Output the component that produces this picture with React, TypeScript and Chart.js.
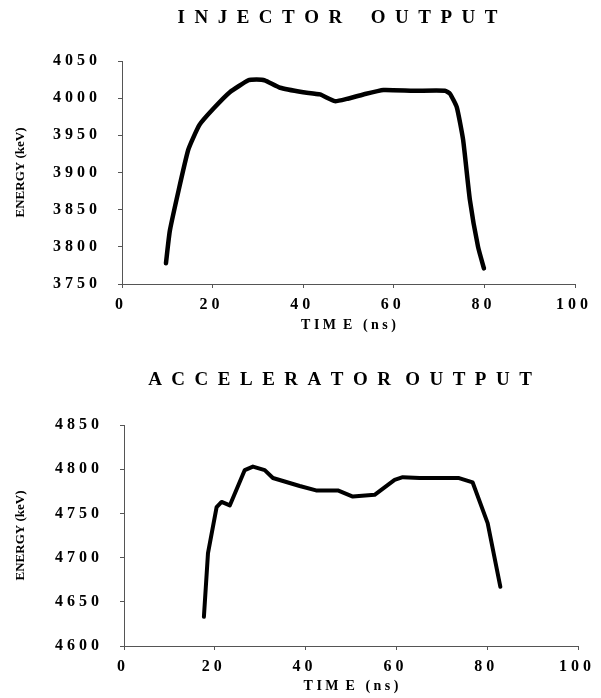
import React, { useEffect, useRef } from "react";
import { Chart, registerables } from "chart.js";

Chart.register(...registerables);

// ---------- data ----------
const injectorTime = [9.7, 10.6, 14.6, 17.1, 20.2, 23.8, 27.9, 29.7, 31.5, 34.9, 40.0, 43.7, 47.0, 49.6, 53.3, 57.7, 64.3, 71.3, 72.4, 73.9, 75.3, 76.8, 78.6, 79.9];
const injectorEnergy = [3778, 3823, 3930, 3964, 3986, 4008, 4024, 4025, 4024, 4014, 4008, 4005, 3996, 3999, 4005, 4011, 4010, 4010, 4006, 3988, 3944, 3863, 3800, 3771];

const acceleratorTime = [17.6, 18.5, 20.4, 21.5, 23.3, 26.6, 28.4, 31.0, 32.8, 38.7, 42.3, 47.1, 50.4, 55.2, 59.6, 61.4, 65.1, 73.8, 76.8, 80.1, 82.9];
const acceleratorEnergy = [4633, 4705, 4757, 4763, 4759, 4799, 4803, 4799, 4790, 4781, 4776, 4776, 4769, 4771, 4788, 4791, 4790, 4790, 4785, 4739, 4667];

const timeTicks = [0, 20, 40, 60, 80, 100];
const injectorTicks = [3750, 3800, 3850, 3900, 3950, 4000, 4050];
const acceleratorTicks = [4600, 4650, 4700, 4750, 4800, 4850];

const injectorTitle = "INJECTOR OUTPUT";
const acceleratorTitle = "ACCELERATOR OUTPUT";
const timeLabel = "T I M  E   ( n s )";
const energyLabel = "ENERGY (keV)";

// ---------- helpers ----------
const FONT = "'Liberation Serif', 'Times New Roman', serif";
const spaced = (s: string) => s.split("").join(" ");
const spacedTitle = (s: string, letterGap: string, wordGap: string) =>
  s.split(" ").map((w) => w.split("").join(letterGap)).join(wordGap);

type Cfg = {
  title: string;
  letterGap: string;
  wordGap: string;
  titleY: number;
  titleDx: number;
  xs: number[];
  ys: number[];
  yTicks: number[];
  area: { left: number; right: number; top: number; bottom: number };
  xTitlePadBottom: number;
  tension: number;
  lineWidth: number;
};

const W = 601;
const H = 349;

const panelTitle = {
  id: "panelTitle",
  afterDraw(chart: any, _args: any, opts: any) {
    const { ctx, chartArea } = chart;
    ctx.save();
    ctx.font = `bold ${opts.size}px ${FONT}`;
    ctx.fillStyle = "#000";
    ctx.textAlign = "center";
    ctx.textBaseline = "middle";
    ctx.fillText(opts.text, (chartArea.left + chartArea.right) / 2 + opts.dx, opts.y);
    ctx.restore();
  },
};

function makeChart(canvas: HTMLCanvasElement, c: Cfg) {
  const data = c.xs.map((x, i) => ({ x, y: c.ys[i] }));
  return new Chart(canvas, {
    type: "line",
    data: {
      datasets: [
        {
          data,
          borderColor: "#000",
          borderWidth: c.lineWidth,
          pointRadius: 0,
          tension: c.tension,
          borderCapStyle: "round",
          borderJoinStyle: "round",
          fill: false,
        },
      ],
    },
    plugins: [panelTitle],
    options: {
      animation: false,
      responsive: false,
      layout: { padding: { left: 0, right: W - c.area.right, top: c.area.top, bottom: 0 } },
      plugins: {
        legend: { display: false },
        tooltip: { enabled: false },
        title: { display: false },
        panelTitle: {
          text: spacedTitle(c.title, c.letterGap, c.wordGap),
          size: 19,
          y: c.titleY,
          dx: c.titleDx,
        },
      },
      scales: {
        x: {
          type: "linear",
          min: timeTicks[0],
          max: timeTicks[timeTicks.length - 1],
          afterBuildTicks: (s: any) => {
            s.ticks = timeTicks.map((v) => ({ value: v }));
          },
          afterFit: (s: any) => {
            s.height = H - c.area.bottom;
          },
          ticks: {
            color: "#000",
            padding: 7,
            labelOffset: -3,
            maxRotation: 0,
            font: { family: FONT, size: 16, weight: "bold" },
            callback: (v: any) => spaced(String(v)),
          },
          grid: { drawOnChartArea: false, drawTicks: true, tickLength: 4, color: "#555" },
          border: { display: true, color: "#555", width: 1 },
          title: {
            display: true,
            text: timeLabel,
            color: "#000",
            font: { family: FONT, size: 14, weight: "bold", lineHeight: 1.2 },
            padding: { top: 0, bottom: c.xTitlePadBottom },
          },
        },
        y: {
          type: "linear",
          min: c.yTicks[0],
          max: c.yTicks[c.yTicks.length - 1],
          afterBuildTicks: (s: any) => {
            s.ticks = c.yTicks.map((v) => ({ value: v }));
          },
          afterFit: (s: any) => {
            s.width = c.area.left;
          },
          ticks: {
            color: "#000",
            padding: 21,
            font: { family: FONT, size: 16, weight: "bold" },
            callback: (v: any) => spaced(String(v)),
          },
          grid: { drawOnChartArea: false, drawTicks: true, tickLength: 4, color: "#555" },
          border: { display: true, color: "#555", width: 1 },
          title: {
            display: true,
            text: energyLabel,
            color: "#000",
            font: { family: FONT, size: 13, weight: "bold", lineHeight: 1.2 },
            padding: { top: 13, bottom: 0 },
          },
        },
      },
    },
  } as any);
}

function Panel({ cfg }: { cfg: Cfg }) {
  const ref = useRef<HTMLCanvasElement | null>(null);
  useEffect(() => {
    if (!ref.current) return;
    const ch = makeChart(ref.current, cfg);
    return () => ch.destroy();
  }, []);
  return <canvas ref={ref} width={W} height={H} style={{ display: "block", width: W, height: H }} />;
}

const topCfg: Cfg = {
  title: injectorTitle,
  letterGap: "\u2002",
  wordGap: "\u2002\u2002\u2002",
  titleY: 18,
  titleDx: -11,
  xs: injectorTime,
  ys: injectorEnergy,
  yTicks: injectorTicks,
  area: { left: 122, right: 575, top: 61, bottom: 284 },
  xTitlePadBottom: 15,
  tension: 0.15,
  lineWidth: 4.5,
};

const bottomCfg: Cfg = {
  title: acceleratorTitle,
  letterGap: "\u2002",
  wordGap: "\u2002\u2005",
  titleY: 31,
  titleDx: -11,
  xs: acceleratorTime,
  ys: acceleratorEnergy,
  yTicks: acceleratorTicks,
  area: { left: 124, right: 579, top: 76, bottom: 297 },
  xTitlePadBottom: 3,
  tension: 0,
  lineWidth: 4,
};

export default function App() {
  return (
    <div style={{ position: "absolute", left: 0, top: 0, width: W, height: 698, background: "#fff" }}>
      <Panel cfg={topCfg} />
      <Panel cfg={bottomCfg} />
    </div>
  );
}
